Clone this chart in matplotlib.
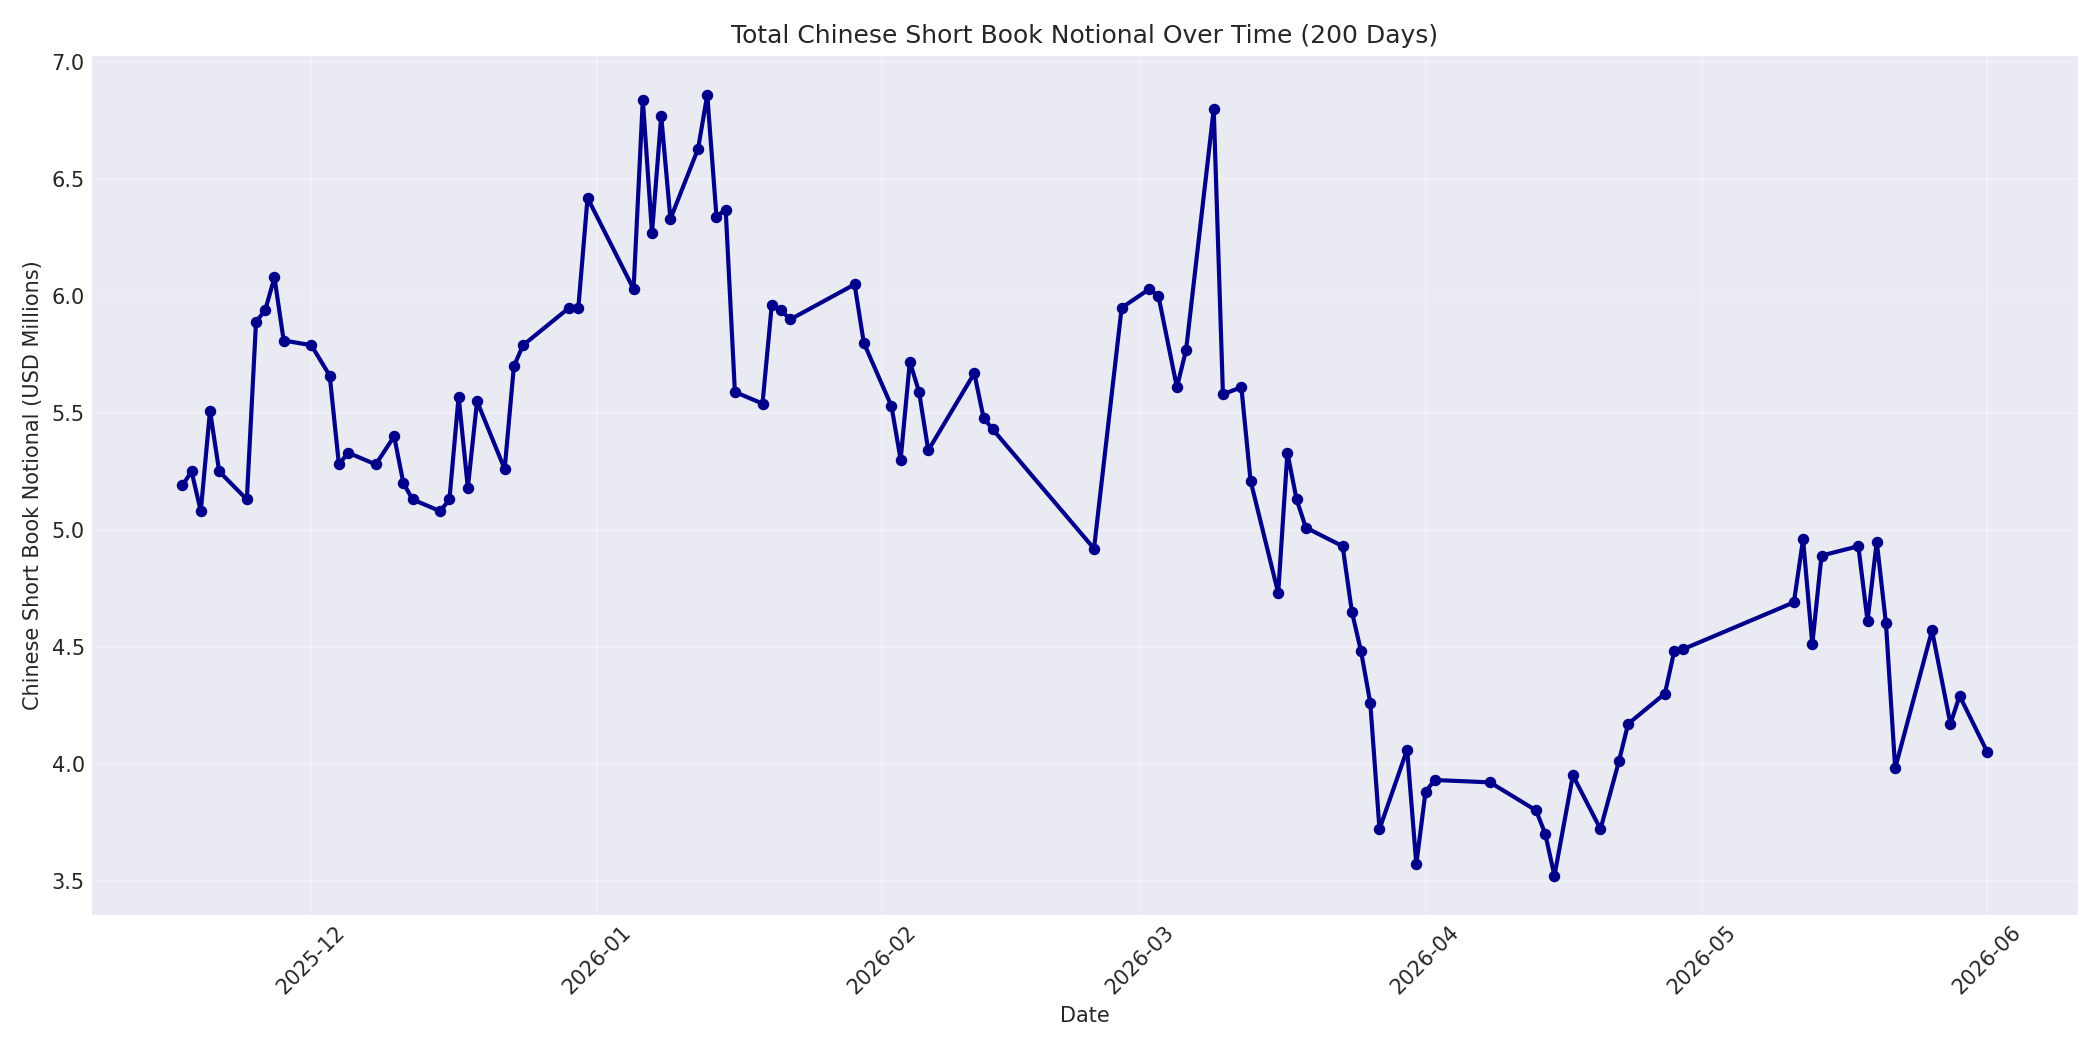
import pandas as pd
import matplotlib.pyplot as plt
import matplotlib.dates as mdates

dates = [
    "2025-11-17", "2025-11-18", "2025-11-19", "2025-11-20", "2025-11-21",
    "2025-11-24", "2025-11-25", "2025-11-26", "2025-11-27", "2025-11-28",
    "2025-12-01", "2025-12-03", "2025-12-04", "2025-12-05", "2025-12-08",
    "2025-12-10", "2025-12-11", "2025-12-12", "2025-12-15", "2025-12-16",
    "2025-12-17", "2025-12-18", "2025-12-19", "2025-12-22", "2025-12-23",
    "2025-12-24", "2025-12-29", "2025-12-30", "2025-12-31", "2026-01-05",
    "2026-01-06", "2026-01-07", "2026-01-08", "2026-01-09", "2026-01-12",
    "2026-01-13", "2026-01-14", "2026-01-15", "2026-01-16", "2026-01-19",
    "2026-01-20", "2026-01-21", "2026-01-22", "2026-01-29", "2026-01-30",
    "2026-02-02", "2026-02-03", "2026-02-04", "2026-02-05", "2026-02-06",
    "2026-02-11", "2026-02-12", "2026-02-13", "2026-02-24", "2026-02-27",
    "2026-03-02", "2026-03-03", "2026-03-05", "2026-03-06", "2026-03-09",
    "2026-03-10", "2026-03-12", "2026-03-13", "2026-03-16", "2026-03-17",
    "2026-03-18", "2026-03-19", "2026-03-23", "2026-03-24", "2026-03-25",
    "2026-03-26", "2026-03-27", "2026-03-30", "2026-03-31", "2026-04-01",
    "2026-04-02", "2026-04-08", "2026-04-13", "2026-04-14", "2026-04-15",
    "2026-04-17", "2026-04-20", "2026-04-22", "2026-04-23", "2026-04-27",
    "2026-04-28", "2026-04-29", "2026-05-11", "2026-05-12", "2026-05-13",
    "2026-05-14", "2026-05-18", "2026-05-19", "2026-05-20", "2026-05-21",
    "2026-05-22", "2026-05-26", "2026-05-28", "2026-05-29", "2026-06-01",
]

notional_musd = [
    5.19, 5.25, 5.08, 5.51, 5.25, 5.13, 5.89, 5.94, 6.08, 5.81,
    5.79, 5.66, 5.28, 5.33, 5.28, 5.40, 5.20, 5.13, 5.08, 5.13,
    5.57, 5.18, 5.55, 5.26, 5.70, 5.79, 5.95, 5.95, 6.42, 6.03,
    6.84, 6.27, 6.77, 6.33, 6.63, 6.86, 6.34, 6.37, 5.59, 5.54,
    5.96, 5.94, 5.90, 6.05, 5.80, 5.53, 5.30, 5.72, 5.59, 5.34,
    5.67, 5.48, 5.43, 4.92, 5.95, 6.03, 6.00, 5.61, 5.77, 6.80,
    5.58, 5.61, 5.21, 4.73, 5.33, 5.13, 5.01, 4.93, 4.65, 4.48,
    4.26, 3.72, 4.06, 3.57, 3.88, 3.93, 3.92, 3.80, 3.70, 3.52,
    3.95, 3.72, 4.01, 4.17, 4.30, 4.48, 4.49, 4.69, 4.96, 4.51,
    4.89, 4.93, 4.61, 4.95, 4.60, 3.98, 4.57, 4.17, 4.29, 4.05,
]

df = pd.DataFrame({"date": pd.to_datetime(dates), "notional": notional_musd})

plt.style.use("seaborn-v0_8-darkgrid")
plt.rcParams["font.family"] = ["DejaVu Sans"]

fig, ax = plt.subplots(figsize=(14, 7))

ax.plot(
    df["date"],
    df["notional"],
    color="darkblue",
    linewidth=2,
    marker="o",
    markersize=4.5,
)

ax.set_title("Total Chinese Short Book Notional Over Time (200 Days)")
ax.set_xlabel("Date")
ax.set_ylabel("Chinese Short Book Notional (USD Millions)")
ax.grid(True, alpha=0.3)

ax.xaxis.set_major_locator(mdates.MonthLocator())
ax.xaxis.set_major_formatter(mdates.DateFormatter("%Y-%m"))
plt.setp(ax.get_xticklabels(), rotation=45)

plt.tight_layout()
plt.savefig("out.png", dpi=150)
